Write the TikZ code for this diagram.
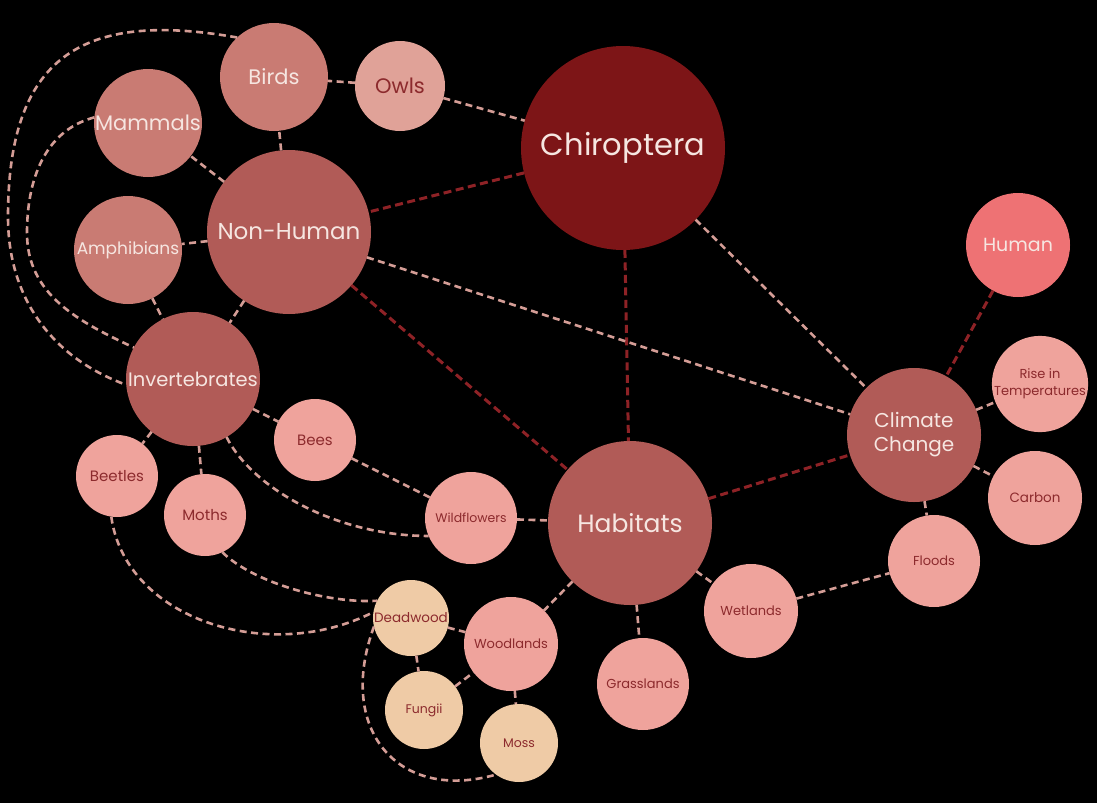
\documentclass[tikz,border=0pt]{standalone}
\usepackage{fontspec}
\setmainfont{Poppins}
\usepackage{xcolor}
\usepackage{tikz}
\usetikzlibrary{positioning}

\definecolor{chirored}{HTML}{7D1517}
\definecolor{hubrose}{HTML}{B15B57}
\definecolor{grouprose}{HTML}{C97B73}
\definecolor{owlpink}{HTML}{E0A298}
\definecolor{leafpink}{HTML}{EFA39C}
\definecolor{humancoral}{HTML}{EE7274}
\definecolor{woodpeach}{HTML}{EFCBA6}
\definecolor{paletext}{HTML}{F6E6E1}
\definecolor{darktext}{HTML}{8C2A2D}
\definecolor{linkpale}{HTML}{D49D96}
\definecolor{linkdark}{HTML}{8E2226}

\tikzset{
  bubble/.style={circle, inner sep=0pt, outer sep=0pt, align=center},
  core/.style={bubble, fill=chirored, text=paletext},
  hub/.style={bubble, fill=hubrose, text=paletext},
  group/.style={bubble, fill=grouprose, text=paletext},
  leaf/.style={bubble, fill=leafpink, text=darktext},
  wood/.style={bubble, fill=woodpeach, text=darktext},
  link/.style={color=linkpale, line width=2.6pt, dash pattern=on 7pt off 4.5pt},
  strong/.style={color=linkdark, line width=3pt, dash pattern=on 8pt off 4.5pt}
}

\begin{document}
\begin{tikzpicture}[node distance=2cm, on grid]
        \useasboundingbox[fill=black] (0,0) rectangle (1097pt,-803pt);

        % centre and the three hubs
        \node[core, minimum size=204pt, font=\fontsize{30.5}{36}\selectfont] (chiro) at (623pt,-148pt) {Chiroptera};
        \node[hub, minimum size=164pt, font=\fontsize{23}{28}\selectfont] (nonhuman) [below left=84pt and 334pt of chiro] {Non-Human};
        \node[hub, minimum size=164pt, font=\fontsize{25}{30}\selectfont] (habitats) [below right=375pt and 7pt of chiro] {Habitats};
        \node[hub, minimum size=134pt, font=\fontsize{20}{24}\selectfont] (climate) [above right=88pt and 284pt of habitats] {Climate\\Change};

        % non-human side
        \node[group, minimum size=108pt, font=\fontsize{21}{25}\selectfont] (birds) [above left=155pt and 15pt of nonhuman] {Birds};
        \node[leaf, fill=owlpink, minimum size=90pt, font=\fontsize{21}{25}\selectfont] (owls) [below right=9pt and 126pt of birds] {Owls};
        \node[group, minimum size=108pt, font=\fontsize{21}{25}\selectfont] (mammals) [above left=109pt and 141pt of nonhuman] {Mammals};
        \node[group, minimum size=108pt, font=\fontsize{17}{20}\selectfont] (amphib) [below left=18pt and 161pt of nonhuman] {Amphibians};
        \node[hub, minimum size=134pt, font=\fontsize{19.5}{23}\selectfont] (invert) [below left=147pt and 96pt of nonhuman] {Invertebrates};
        \node[leaf, minimum size=82pt, font=\fontsize{15}{18}\selectfont] (bees) [below right=61pt and 122pt of invert] {Bees};
        \node[leaf, minimum size=82pt, font=\fontsize{15}{18}\selectfont] (beetles) [below left=97pt and 76pt of invert] {Beetles};
        \node[leaf, minimum size=82pt, font=\fontsize{15}{18}\selectfont] (moths) [below right=136pt and 12pt of invert] {Moths};

        % habitats side
        \node[leaf, minimum size=92pt, font=\fontsize{12.5}{15}\selectfont] (wildfl) [above left=5pt and 159pt of habitats] {Wildflowers};
        \node[leaf, minimum size=94pt, font=\fontsize{13}{16}\selectfont] (woodlands) [below left=121pt and 119pt of habitats] {Woodlands};
        \node[wood, minimum size=76pt, font=\fontsize{13.5}{16}\selectfont] (deadwood) [above left=26pt and 100pt of woodlands] {Deadwood};
        \node[wood, minimum size=78pt, font=\fontsize{12.5}{15}\selectfont] (fungii) [below left=66pt and 87pt of woodlands] {Fungii};
        \node[wood, minimum size=78pt, font=\fontsize{12.5}{15}\selectfont] (moss) [below right=99pt and 8pt of woodlands] {Moss};
        \node[leaf, minimum size=92pt, font=\fontsize{13}{16}\selectfont] (grass) [below right=161pt and 13pt of habitats] {Grasslands};
        \node[leaf, minimum size=94pt, font=\fontsize{13}{16}\selectfont] (wetlands) [below right=88pt and 121pt of habitats] {Wetlands};

        % climate side
        \node[leaf, minimum size=92pt, font=\fontsize{13}{16}\selectfont] (floods) [below right=126pt and 20pt of climate] {Floods};
        \node[leaf, minimum size=94pt, font=\fontsize{13.5}{16}\selectfont] (carbon) [below right=63pt and 121pt of climate] {Carbon};
        \node[leaf, minimum size=94pt, font=\fontsize{13}{17}\selectfont] (rise) [above right=51pt and 126pt of climate] {Rise in\\Temperatures};
        \node[bubble, fill=humancoral, text=paletext, minimum size=104pt, font=\fontsize{19}{23}\selectfont] (human) [above right=190pt and 104pt of climate] {Human};

        % bends of the two long left-hand loops
        \coordinate (outerbend) at (8pt,-217pt);
        \coordinate (innerbend) at (27pt,-233pt);

        \path[strong]
        (chiro) edge (nonhuman)
                edge (habitats)
        (nonhuman) edge (habitats)
        (habitats) edge (climate)
        (human) edge (climate);

        \path[link]
        (owls) edge (chiro)
               edge (birds)
        (chiro) edge (climate)
        (nonhuman) edge (climate)
                   edge (birds)
                   edge (mammals)
                   edge (amphib)
                   edge (invert)
        (amphib) edge (invert)
        (invert) edge (bees)
                 edge (beetles)
                 edge (moths)
        (bees) edge (wildfl)
        (wildfl) edge (habitats)
        (habitats) edge (woodlands)
                   edge (grass)
                   edge (wetlands)
        (wetlands) edge (floods)
        (climate) edge (floods)
                  edge (carbon)
                  edge (rise)
        (deadwood) edge (woodlands)
                   edge (fungii)
        (fungii) edge (woodlands)
        (woodlands) edge (moss);

        % long curved links
        \draw[link] (birds.133) to[out=170, in=90, looseness=1.4] (outerbend) to[out=-90, in=160] (invert.185);
        \draw[link] (mammals.174) to[out=195, in=90] (innerbend) to[out=-90, in=155] (invert.152);
        \draw[link] (invert.300) .. controls +(27pt,-53pt) and +(-90pt,0pt) .. (wildfl.203);
        \draw[link] (moths.295) .. controls +(30pt,-30pt) and +(-50pt,-3pt) .. (deadwood.153);
        \draw[link] (beetles.262) .. controls +(14pt,-103pt) and +(-104pt,-53pt) .. (deadwood.171);
        \draw[link] (deadwood.193) .. controls +(-38pt,-103pt) and +(-98pt,-28pt) .. (moss.234);

    \end{tikzpicture}
\end{document}
